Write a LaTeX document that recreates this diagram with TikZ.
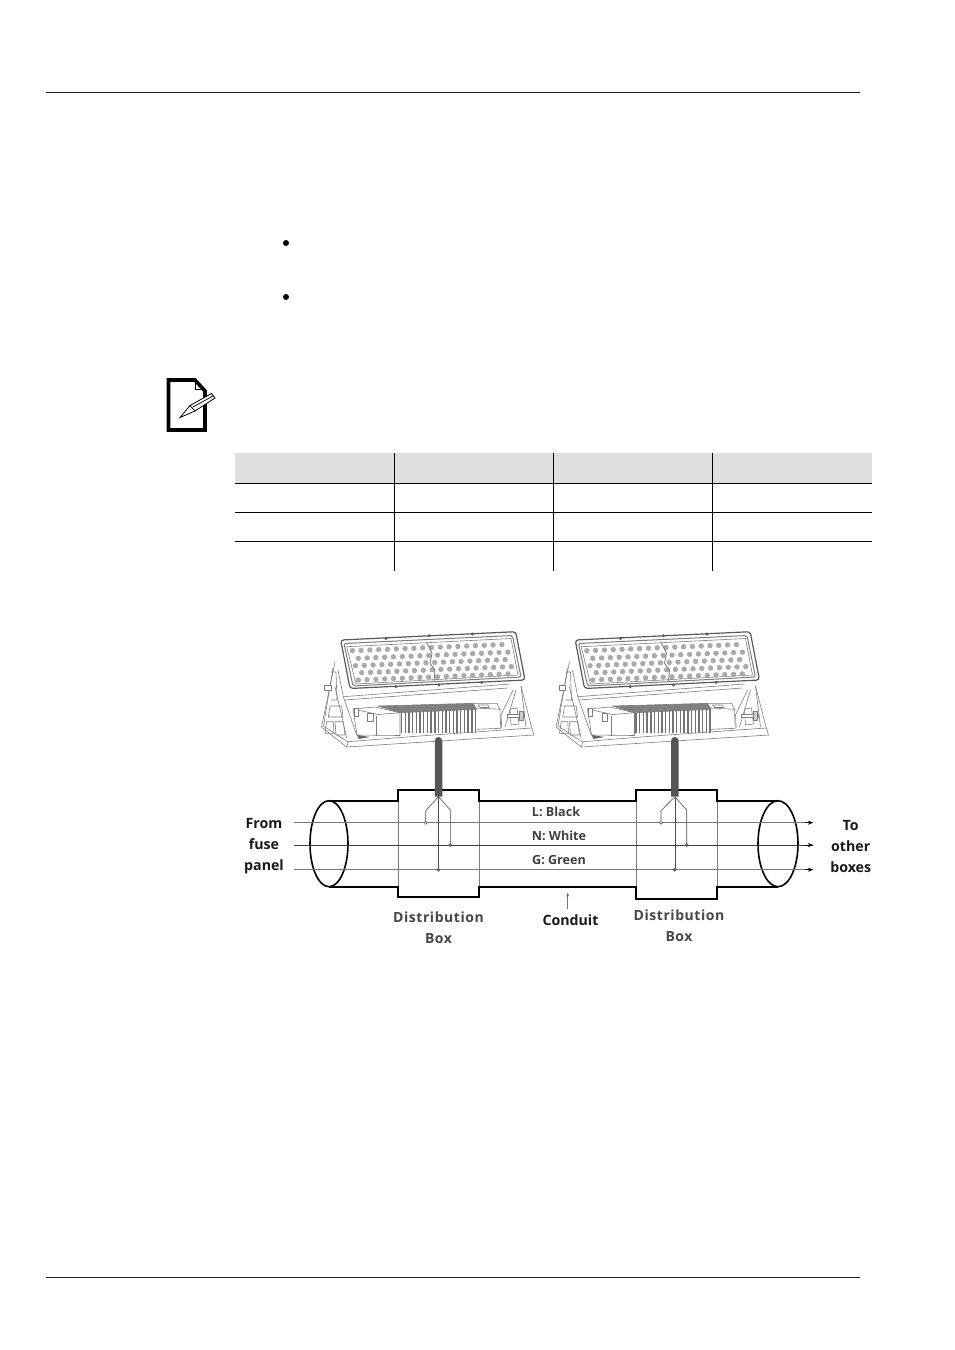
\documentclass[tikz,border=0pt]{standalone}
\usepackage{fontspec}
\setmainfont{Open Sans}
\newfontfamily\spacedfont[LetterSpace=4]{Open Sans}
\usetikzlibrary{arrows.meta, shapes.geometric, calc}
\definecolor{rulegray}{RGB}{30, 30, 30}
\definecolor{headgray}{RGB}{223, 223, 223}
\definecolor{sketchgray}{RGB}{125, 125, 125}
\definecolor{wiregray}{RGB}{120, 120, 120}
\definecolor{cablegray}{RGB}{85, 85, 85}
\tikzset{
  sketch/.style={draw=sketchgray, line width=0.6pt, line join=round},
  led/.style={draw=black!35, fill=black!33, line width=0.6pt},
  pipe/.style={draw=black, line width=1.6pt, line join=miter},
  linewire/.style={draw=wiregray, line width=0.9pt},
  tap/.style={circle, draw=black!75, fill=black!45, line width=0.5pt, inner sep=0pt, minimum size=3.2pt},
  fanwire/.style={draw=black!70, line width=0.6pt},
  tag/.style={font=\fontsize{14.2}{21}\selectfont\bfseries, align=center, inner sep=0pt, text=black!90},
  boxtag/.style={font=\fontsize{14}{20.5}\selectfont\spacedfont\bfseries, align=center, inner sep=0pt, text=black!72},
  wiretag/.style={font=\fontsize{12.6}{15}\selectfont\bfseries, inner sep=0pt, text=black!75},
}

\begin{document}
\begin{tikzpicture}[x=1pt, y=-1pt]
  \useasboundingbox (0,0) rectangle (954,1350);

  % Page rules
  \draw[rulegray, line width=1pt] (46,92) -- (860,92);
  \draw[rulegray, line width=1pt] (46,1277) -- (860,1277);

  % Bullets
  \fill (286,243) circle (3);
  \fill (286,297) circle (3);

  % Note icon
  \draw[line width=3.6pt, line join=miter] (168.5,380) -- (195,380) -- (205,391) -- (205,430) -- (168.5,430) -- cycle;
  \draw[line width=0.8pt] (195,380) -- (195,389.5) -- (205,389.5);
  \draw[fill=white, line width=0.8pt] (180,417.5) -- (190,405.5) -- (211.5,393.5) -- (215,398) -- (195,411) -- cycle;
  \draw[line width=0.7pt] (190,405.5) -- (195,411);
  \draw[line width=0.7pt] (193,407) -- (213,396);

  % Table
  \fill[headgray] (235,453) rectangle (872,483);
  \foreach \tx in {394,553,712}
    \draw[black, line width=0.8pt] (\tx,453) -- (\tx,571);
  \foreach \ty in {483,512,541}
    \draw[black, line width=0.8pt] (235,\ty) -- (872,\ty);

  % Fixtures
  \foreach \dx in {0,234.5} {
    \begin{scope}[xshift=\dx]
      % yoke and base
      \draw[sketch] (335,662) -- (321.5,727) -- (346.7,747) -- (534,735) -- (531.5,727) -- (521,686);
      \draw[sketch] (333,668) -- (323.5,726) -- (348,742);
      \draw[sketch] (346.7,747) -- (348.3,741.7) -- (400,737.5) -- (433,735) -- (531.5,728);
      \draw[sketch] (338,670) -- (343.3,696.7) -- (356.7,735);
      \draw[sketch] (335,687) -- (346.7,738);
      \draw[sketch] (343.3,696.7) -- (510,684);
      \draw[sketch] (344.5,700) -- (508,688);
      \draw[sketch] (330,706) -- (341.7,706) -- (343,717) -- (328.3,717) -- cycle;
      \draw[sketch] (326.7,721.7) -- (333.3,721.7) -- (334,733.3) -- (325,733.3) -- cycle;
      \draw[sketch] (335,721.7) -- (343.3,721.7) -- (345,735) -- (336,735) -- cycle;
      \draw[sketch] (331,672) -- (336,672) -- (337,700) -- (331,700);
      \draw[sketch, fill=white] (324.5,685) rectangle (331,690);
      \draw[sketch] (513,690) -- (501,715) -- (501.7,728);
      \draw[sketch] (516,690) -- (505,727);
      \draw[sketch] (521,686) -- (526,727);
      \draw[sketch] (510,709) -- (517,708) -- (519,724) -- (511,725) -- cycle;
      \draw[sketch, fill=white] (507,714) rectangle (524,717);
      \draw[sketch, fill=black!20] (519,711) rectangle (523,720);
      % driver housing
      \draw[sketch] (353,709) -- (357,735) -- (400,735.5) -- (400,712.7) -- (378,714.5) -- cycle;
      \draw[sketch] (353,709) -- (375,707) -- (400,712.7);
      \draw[sketch] (376.7,716) -- (376.7,736);
      \draw[sketch, fill=white] (354,708) rectangle (358,716);
      \draw[sketch, fill=white] (367.5,713) rectangle (373,721);
      \fill[black!60] (357,735) -- (370,737) -- (359,739) -- cycle;
      \draw[sketch, fill=black!50] (378,706) -- (473,703.3) -- (476.7,709.3) -- (400,712.7) -- cycle;
      \foreach \fin in {0,...,20}
        \draw[black!55, line width=1.4pt] ({401.5+\fin*3.7},{712.5-\fin*0.17}) -- ({401.5+\fin*3.7},733);
      \draw[sketch] (476.7,708) -- (500,709.3) -- (500.7,728.3) -- (476.7,729.3);
      \draw[sketch] (470,703.3) -- (497,703.3) -- (500,709.3);
      \draw[sketch] (478,705) -- (488,705) -- (489,707.5) -- (480,707.5) -- cycle;
      % head
      \draw[draw=black!65, line width=1.2pt, fill=white, rounded corners=3pt] (340.7,640) -- (515.7,631.7) -- (525,680) -- (350,688.5) -- cycle;
      \draw[sketch, line width=1pt, rounded corners=2pt] (344,643.5) -- (512.5,635.5) -- (521,677) -- (353,686) -- cycle;
      \draw[sketch, fill=white] (346.7,646.7) -- (511,638.5) -- (518,675) -- (356,684) -- cycle;
      \foreach \ox/\oy in {352.3/650.7, 358.3/658.3, 355.5/665.7, 361.7/672.7, 358.3/680}
        \foreach \i in {0,...,17}
          \draw[led] ({\ox+\i*8.8},{\oy-\i*0.36}) circle (2.3);
      \draw[sketch, fill=none, line width=0.9pt] (426.7,642.5) -- (432,653.3) -- (430,663.3) -- (435,670) -- (434,681);
      \foreach \bx/\by in {386/638.3, 429/635.7, 472.3/634, 395.7/686.7, 439/685, 481.7/682.3}
        \fill[black!65] (\bx,\by) circle (1.7);
    \end{scope}
  }

  % Conduit ends and boxes
  \node[ellipse, draw=black, line width=1.6pt, minimum width=38pt, minimum height=86pt, inner sep=0pt, outer sep=0pt] (endL) at (329,843.7) {};
  \node[ellipse, draw=black, line width=1.6pt, minimum width=40pt, minimum height=86pt, inner sep=0pt, outer sep=0pt] (endR) at (778,843.7) {};
  \node[rectangle, draw=sketchgray, line width=0.8pt, minimum width=81pt, minimum height=106.7pt, inner sep=0pt, outer sep=0pt] (boxA) at (438.5,843.35) {};
  \node[rectangle, draw=sketchgray, line width=0.8pt, minimum width=81pt, minimum height=109pt, inner sep=0pt, outer sep=0pt] (boxB) at (676.5,844.5) {};

  % Conduit walls
  \draw[pipe] (endL.north) -- (endL.north -| boxA.west) -- (boxA.north west) -- (boxA.north east) -- (endL.north -| boxA.east)
    -- (endL.north -| boxB.west) -- (boxB.north west) -- (boxB.north east) -- (endL.north -| boxB.east) -- (endR.north);
  \draw[pipe] (endL.south) -- (endL.south -| boxA.west) -- (boxA.south west) -- (boxA.south east) -- (endL.south -| boxA.east)
    -- (endL.south -| boxB.west) -- (boxB.south west) -- (boxB.south east) -- (endL.south -| boxB.east) -- (endR.south);

  % Line wires
  \foreach \w/\wy/\wc in {L/822.7/wiregray, N/845/black!75, G/869.7/wiregray} {
    \coordinate (in\w) at (294,\wy);
    \coordinate (out\w) at (813,\wy);
    \draw[linewire, draw=\wc] (in\w) -- (out\w);
    \draw[-{Stealth[length=5pt, width=4pt]}, black, line width=0.5pt] (805,\wy) -- (out\w);
  }

  % Drops
  \foreach \n/\fx/\lx/\rx in {A/438.5/425.7/450.3, B/674.8/661/686.7} {
    \coordinate (cableTop\n) at (\fx,737);
    \coordinate (fan\n) at (\fx,796.7);
    \coordinate (bendL\n) at (\lx,810.7);
    \coordinate (bendN\n) at (\rx,810);
    \node[tap, fill=white] (tapL\n) at (\lx,822.7) {};
    \node[tap] (tapN\n) at (\rx,845) {};
    \node[tap] (tapG\n) at (\fx,869.7) {};
    \draw[fanwire] (fan\n) -- (bendL\n) -- (tapL\n);
    \draw[fanwire] (fan\n) -- (bendN\n) -- (tapN\n);
    \draw[fanwire] (fan\n) -- (tapG\n);
    \fill[cablegray] ($(fan\n)+(-3.75,0)$) -- ($(cableTop\n)+(-3.75,3.75)$) arc (180:360:3.75) -- ($(fan\n)+(3.75,0)$) -- cycle;
  }

  % Labels
  \node[tag] (fromLabel) at (264,846) {From\\fuse\\panel};
  \node[tag] (toLabel) at (850.7,846.5) {To\\other\\boxes};
  \node[wiretag] (blackLabel) at (556,812) {L: Black};
  \node[wiretag] (whiteLabel) at (559,836) {N: White};
  \node[wiretag] (greenLabel) at (559,860) {G: Green};
  \node[boxtag] (boxLabelA) at (438.5,927.5) {Distribution\\Box};
  \node[boxtag] (boxLabelB) at (679,925.5) {Distribution\\Box};
  \node[tag] (conduitLabel) at (570.5,920.5) {Conduit};

  \coordinate (conduitTail) at (567.7,909);
  \coordinate (conduitHead) at (567.7,892.5);
  \draw[-{Stealth[length=4pt, width=3pt]}, draw=wiregray, line width=0.8pt] (conduitTail) -- (conduitHead);
\end{tikzpicture}
\end{document}
